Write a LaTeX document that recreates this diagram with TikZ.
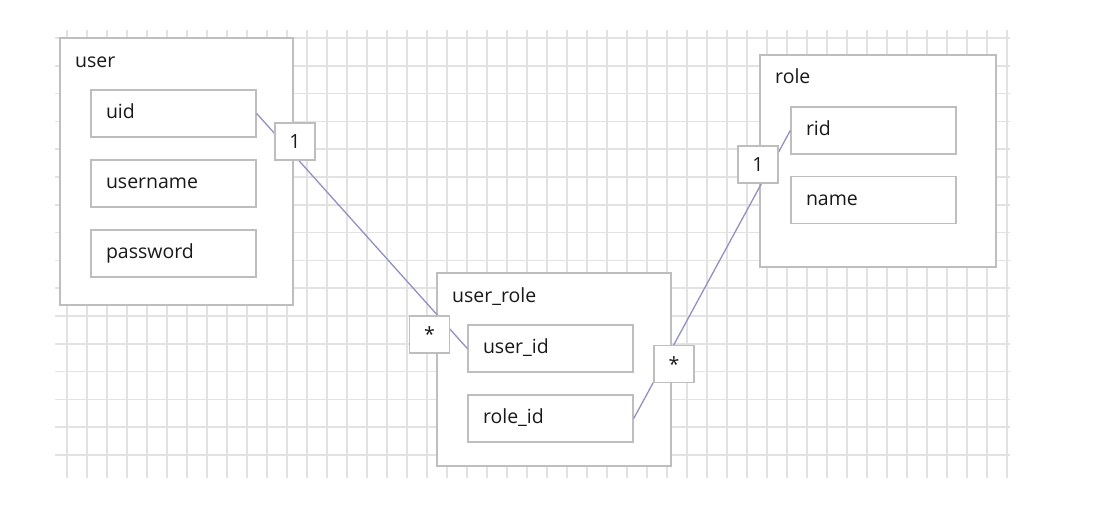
\documentclass[tikz,border=0pt]{standalone}
\usepackage{fontspec}
\setmainfont{Open Sans}
\definecolor{gridc}{RGB}{226,226,226}
\definecolor{boxc}{RGB}{190,190,190}
\definecolor{linkc}{RGB}{145,145,195}
\definecolor{textc}{RGB}{25,25,25}
\begin{document}
\begin{tikzpicture}[x=1pt,y=-1pt,
  every node/.style={font=\fontsize{19.5}{22}\selectfont, text=textc},
  entity/.style={draw=boxc, line width=1.4pt, fill=white, inner sep=0pt},
  field/.style={draw=boxc, line width=1.4pt, fill=white, minimum height=47pt,
     text width=135pt, inner xsep=15pt, inner ysep=0pt, align=left,
     text height=14pt, text depth=3.5pt},
  title/.style={anchor=base west, inner sep=0pt},
  mult/.style={draw=boxc, line width=1.4pt, fill=white, minimum width=40pt,
     minimum height=37pt, inner sep=0pt},
  link/.style={draw=linkc, line width=1.3pt}]
\useasboundingbox (0,0) rectangle (1102,504);
\fill[white] (0,0) rectangle (1102,504);
% grid
\foreach \k in {0,...,47} {
  \draw[gridc, line width=1.6pt] ({67+20*\k},30) -- ({67+20*\k},478);
}
\foreach \k in {0,...,15} {
  \draw[gridc, line width=1.6pt] (55,{38+27.8*\k}) -- (1010,{38+27.8*\k});
}
% entities
\node[entity, minimum width=233pt, minimum height=267pt] (user) at (176.5,171.5) {};
\node[title] (userT) at (75,67) {user};
\node[field] (uid) at (173.5,113.5) {uid};
\node[field] (username) at (173.5,183.5) {username};
\node[field] (password) at (173.5,253.5) {password};

\node[entity, minimum width=236pt, minimum height=212pt] (role) at (878,161) {};
\node[title] (roleT) at (775,83) {role};
\node[field] (rid) at (873.5,130.5) {rid};
\node[field] (name) at (873.5,200) {name};

\node[entity, minimum width=234pt, minimum height=193pt] (userrole) at (554,369.5) {};
\node[title] (userroleT) at (452,302) {user\_role};
\node[field] (userid) at (550.5,348.5) {user\_id};
\node[field] (roleid) at (550.5,418.5) {role\_id};
% connectors
\draw[link] (uid.east) -- (userid.west);
\draw[link] (roleid.east) -- (rid.west);
% multiplicities
\node[mult] (m1) at (295,141.5) {\raisebox{-2pt}{1}};
\node[mult] (m2) at (429.5,334.5) {\raisebox{-5pt}{*}};
\node[mult] (m3) at (674,364) {\raisebox{-5pt}{*}};
\node[mult] (m4) at (758,164.5) {\raisebox{-2pt}{1}};
\end{tikzpicture}
\end{document}
